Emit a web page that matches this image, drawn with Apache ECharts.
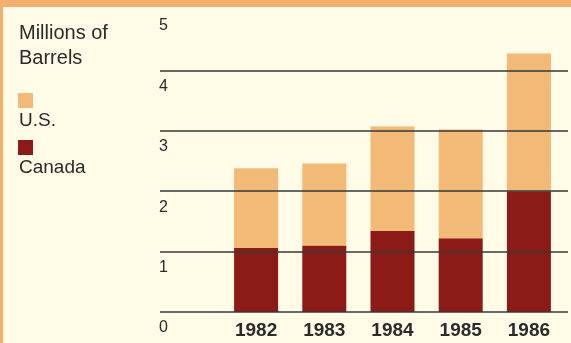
<!DOCTYPE html>
<html>
<head>
<meta charset="utf-8">
<style>
  html, body { margin: 0; padding: 0; background: #fffbe6; }
  #chart { width: 571px; height: 343px; }
</style>
<script src="https://cdn.jsdelivr.net/npm/echarts@6/dist/echarts.min.js"></script>
</head>
<body>
<div id="chart"></div>
<script>
// Crude oil imports, millions of barrels
const years = ['1982', '1983', '1984', '1985', '1986'];
const canada = [1.06, 1.10, 1.34, 1.22, 2.00];
const us = [1.32, 1.36, 1.73, 1.80, 2.28];
const yTicks = [0, 1, 2, 3, 4, 5];

const TAN = '#f2b977';
const DARK_RED = '#8c1a17';
const ORANGE = '#f2b06c';
const INK = '#2b2b2b';
const FONT = '"Liberation Sans", Arial, sans-serif';

const chart = echarts.init(document.getElementById('chart'), null, { renderer: 'canvas' });

chart.setOption({
  backgroundColor: '#fffbe6',
  animation: false,
  grid: [
    // gridline/scale frame spans the full width
    { left: 160, right: 3, top: 10, bottom: 31 },
    // bars sit in a narrower band on the right
    { left: 222, right: 8, top: 10, bottom: 31 }
  ],
  xAxis: [
    { gridIndex: 0, type: 'category', data: years, show: false },
    {
      gridIndex: 1, type: 'category', data: years,
      axisLine: { show: false }, axisTick: { show: false },
      axisLabel: { color: INK, fontFamily: FONT, fontSize: 19, fontWeight: 'bold', margin: 9 }
    }
  ],
  yAxis: [
    {
      gridIndex: 0, type: 'value', min: yTicks[0], max: yTicks[yTicks.length - 1], interval: 1,
      z: 10,
      axisLine: { show: false }, axisTick: { show: false },
      splitLine: { show: true, showMaxLine: false, lineStyle: { color: '#333a36', width: 1.5 } },
      axisLabel: {
        inside: true, margin: -1, color: INK, fontFamily: FONT, fontSize: 16,
        verticalAlign: 'top', padding: [8, 0, 0, 0]
      }
    },
    {
      gridIndex: 1, type: 'value', min: yTicks[0], max: yTicks[yTicks.length - 1], interval: 1,
      show: false, splitLine: { show: false }
    }
  ],
  series: [
    {
      name: 'Canada', type: 'bar', stack: 'total', xAxisIndex: 1, yAxisIndex: 1,
      data: canada, barWidth: 44, itemStyle: { color: DARK_RED }
    },
    {
      name: 'U.S.', type: 'bar', stack: 'total', xAxisIndex: 1, yAxisIndex: 1,
      data: us, barWidth: 44, itemStyle: { color: TAN }
    }
  ],
  graphic: [
    // orange frame edges
    { type: 'rect', shape: { x: 0, y: 0, width: 571, height: 7 }, style: { fill: ORANGE }, z: 20 },
    { type: 'rect', shape: { x: 0, y: 0, width: 3, height: 343 }, style: { fill: ORANGE }, z: 20 },
    // unit caption and legend
    { type: 'text', x: 19, y: 33, style: { text: 'Millions of', fill: INK, font: '20px ' + FONT, verticalAlign: 'middle' } },
    { type: 'text', x: 19, y: 58, style: { text: 'Barrels', fill: INK, font: '20px ' + FONT, verticalAlign: 'middle' } },
    { type: 'rect', shape: { x: 18, y: 93, width: 15, height: 15 }, style: { fill: TAN } },
    { type: 'text', x: 19, y: 121, style: { text: 'U.S.', fill: INK, font: '19px ' + FONT, verticalAlign: 'middle' } },
    { type: 'rect', shape: { x: 18, y: 140, width: 15, height: 15 }, style: { fill: DARK_RED } },
    { type: 'text', x: 19, y: 168, style: { text: 'Canada', fill: INK, font: '19px ' + FONT, verticalAlign: 'middle' } }
  ]
});
</script>
</body>
</html>
